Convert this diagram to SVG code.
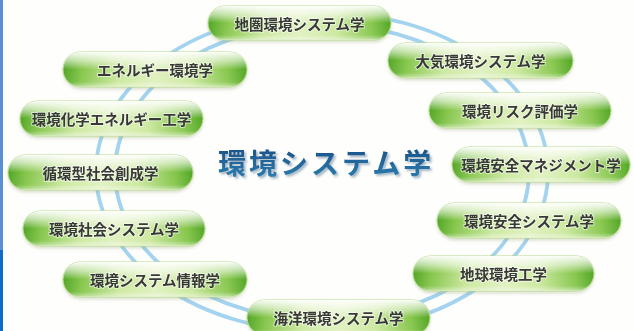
<svg xmlns="http://www.w3.org/2000/svg" width="634" height="331" viewBox="0 0 634 331">
<defs>
  <linearGradient id="gh" x1="0" y1="0" x2="1" y2="0">
    <stop offset="0" stop-color="#52a626"/>
    <stop offset="0.1" stop-color="#86c64c"/>
    <stop offset="0.3" stop-color="#cbe89e"/>
    <stop offset="0.5" stop-color="#e0f1c0"/>
    <stop offset="0.7" stop-color="#cbe89e"/>
    <stop offset="0.9" stop-color="#86c64c"/>
    <stop offset="1" stop-color="#52a626"/>
  </linearGradient>
  <linearGradient id="gv" x1="0" y1="0" x2="0" y2="1">
    <stop offset="0" stop-color="#ffffff" stop-opacity="0.95"/>
    <stop offset="0.25" stop-color="#ffffff" stop-opacity="0.55"/>
    <stop offset="0.5" stop-color="#ffffff" stop-opacity="0"/>
    <stop offset="0.85" stop-color="#ffffff" stop-opacity="0.05"/>
    <stop offset="1" stop-color="#ffffff" stop-opacity="0.5"/>
  </linearGradient>
  <linearGradient id="gt" x1="0" y1="0" x2="0" y2="1">
    <stop offset="0" stop-color="#184a82"/>
    <stop offset="1" stop-color="#2c82b3"/>
  </linearGradient>
  <filter id="sh" x="-10%" y="-20%" width="120%" height="160%">
    <feDropShadow dx="0" dy="2" stdDeviation="1.5" flood-color="#8a9a6a" flood-opacity="0.3"/>
  </filter>
  <filter id="tsh" x="-5%" y="-20%" width="110%" height="150%">
    <feDropShadow dx="2" dy="2" stdDeviation="1" flood-color="#8fa6b8" flood-opacity="0.8"/>
  </filter>
  <style>
    .pill { filter: url(#sh); }
    .base { fill: url(#gh); stroke: #b9dc8e; stroke-width: 1; }
    .gloss { fill: url(#gv); }
    .lbl { font-family: "Noto Sans CJK JP", "Noto Sans CJK SC", sans-serif; font-size: 14.5px; font-weight: 700; fill: #383838; text-anchor: middle; stroke: #ffffff; stroke-width: 2; stroke-opacity: 0.55; paint-order: stroke; }
    .ring { fill: none; stroke: #a4d3f0; stroke-width: 3.8; }
    .title { font-family: "Noto Sans CJK JP", "Noto Sans CJK SC", sans-serif; font-size: 28px; font-weight: 700; fill: url(#gt); letter-spacing: 3px; filter: url(#tsh); }
  </style>
</defs>
<rect x="0" y="0" width="634" height="331" fill="#fefefc"/>
<rect x="0" y="0" width="3" height="250" fill="#5a8fd2"/>
<rect x="0" y="250" width="3" height="81" fill="#0e6cc4"/>

<g id="connectors">
  <ellipse class="ring" cx="322" cy="172" rx="226" ry="160"/>
  <ellipse class="ring" cx="322" cy="172" rx="207" ry="148"/>
</g>

<g id="center-title">
  <text class="title" x="218" y="173.5">環境システム学</text>
</g>

<g id="n1" class="pill"><rect class="base" x="208" y="6" width="183" height="34" rx="17"/><rect class="gloss" x="208" y="6" width="183" height="34" rx="17"/><text class="lbl" x="299.5" y="30">地圏環境システム学</text></g>
<g id="n2" class="pill"><rect class="base" x="388" y="43" width="185" height="35" rx="17.5"/><rect class="gloss" x="388" y="43" width="185" height="35" rx="17.5"/><text class="lbl" x="480.5" y="67">大気環境システム学</text></g>
<g id="n3" class="pill"><rect class="base" x="429" y="93" width="182" height="35" rx="17.5"/><rect class="gloss" x="429" y="93" width="182" height="35" rx="17.5"/><text class="lbl" x="520" y="117">環境リスク評価学</text></g>
<g id="n4" class="pill"><rect class="base" x="452" y="147" width="178" height="35" rx="17.5"/><rect class="gloss" x="452" y="147" width="178" height="35" rx="17.5"/><text class="lbl" x="541" y="171">環境安全マネジメント学</text></g>
<g id="n5" class="pill"><rect class="base" x="437" y="203" width="184" height="35" rx="17.5"/><rect class="gloss" x="437" y="203" width="184" height="35" rx="17.5"/><text class="lbl" x="529" y="227">環境安全システム学</text></g>
<g id="n6" class="pill"><rect class="base" x="413" y="256" width="181" height="35" rx="17.5"/><rect class="gloss" x="413" y="256" width="181" height="35" rx="17.5"/><text class="lbl" x="503.5" y="280">地球環境工学</text></g>
<g id="n7" class="pill"><rect class="base" x="247" y="300" width="183" height="35" rx="17.5"/><rect class="gloss" x="247" y="300" width="183" height="35" rx="17.5"/><text class="lbl" x="338.5" y="324">海洋環境システム学</text></g>
<g id="n8" class="pill"><rect class="base" x="63" y="262" width="184" height="35" rx="17.5"/><rect class="gloss" x="63" y="262" width="184" height="35" rx="17.5"/><text class="lbl" x="155" y="286">環境システム情報学</text></g>
<g id="n9" class="pill"><rect class="base" x="23" y="211" width="182" height="35" rx="17.5"/><rect class="gloss" x="23" y="211" width="182" height="35" rx="17.5"/><text class="lbl" x="114" y="235">環境社会システム学</text></g>
<g id="n10" class="pill"><rect class="base" x="8" y="155" width="185" height="35" rx="17.5"/><rect class="gloss" x="8" y="155" width="185" height="35" rx="17.5"/><text class="lbl" x="100.5" y="179">循環型社会創成学</text></g>
<g id="n11" class="pill"><rect class="base" x="20" y="101" width="183" height="35" rx="17.5"/><rect class="gloss" x="20" y="101" width="183" height="35" rx="17.5"/><text class="lbl" x="111.5" y="125">環境化学エネルギー工学</text></g>
<g id="n12" class="pill"><rect class="base" x="63" y="52" width="184" height="35" rx="17.5"/><rect class="gloss" x="63" y="52" width="184" height="35" rx="17.5"/><text class="lbl" x="155" y="76">エネルギー環境学</text></g>
</svg>
